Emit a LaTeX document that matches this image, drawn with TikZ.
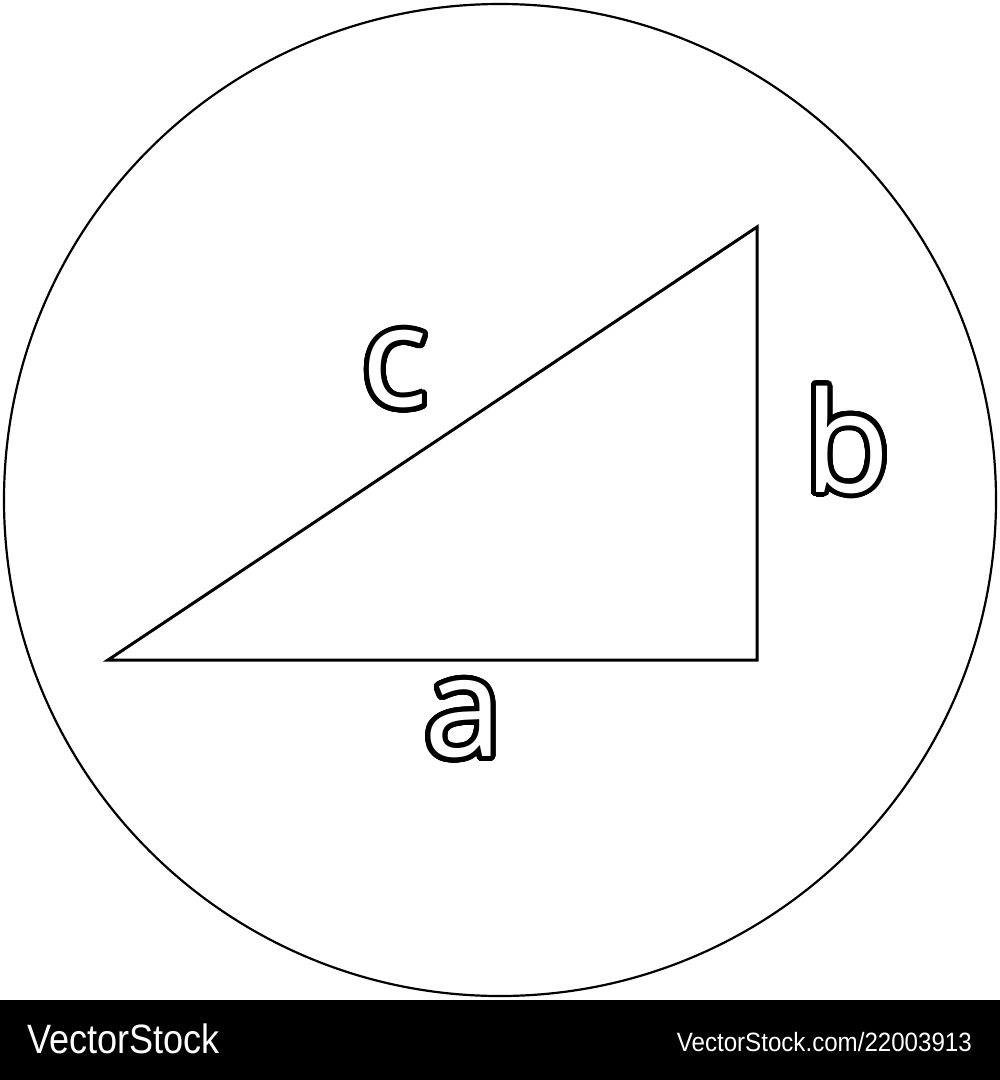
\documentclass[tikz,border=0pt]{standalone}
\usepackage{fontspec}
\usepackage{contour}
\setmainfont{Open Sans}
\newfontfamily\wmfont[FakeStretch=0.88]{Liberation Sans}
\newfontfamily\wmfontb[FakeStretch=0.91]{Liberation Sans}
\contourlength{5pt}
\contournumber{48}
\newcommand{\olet}[1]{\contour{black}{\textcolor{white}{#1}}}
\begin{document}
\begin{tikzpicture}[x=1pt,y=-1pt,
  edge/.style={line width=3pt,line join=miter},
  lbl/.style={inner sep=0pt,font=\fontsize{140}{140}\selectfont},
  wm/.style={inner sep=0pt,text=white,font=\wmfont\fontsize{41}{41}\selectfont,anchor=base west}]
\useasboundingbox (0,0) rectangle (1000,1080);
\fill[white] (0,0) rectangle (1000,1080);
\draw[line width=2.2pt] (500,500) circle[radius=496];
\coordinate (A) at (108,660);
\coordinate (B) at (757,660);
\coordinate (C) at (757,227);
\draw[edge] (A) -- (B) -- (C) -- cycle;
\node[lbl] (lc) at (395,372) {\olet{c}};
\node[lbl] (lb) at (847,442) {\olet{b}};
\node[lbl] (la) at (463,722) {\olet{a}};
\fill[black] (0,1000) rectangle (1000,1080);
\node[wm] (w1) at (27,1053) {VectorStock};
\node[wm,anchor=base east,font=\wmfontb\fontsize{26.5}{26.5}\selectfont] (w2) at (972,1051) {VectorStock.com/22003913};
\end{tikzpicture}
\end{document}
